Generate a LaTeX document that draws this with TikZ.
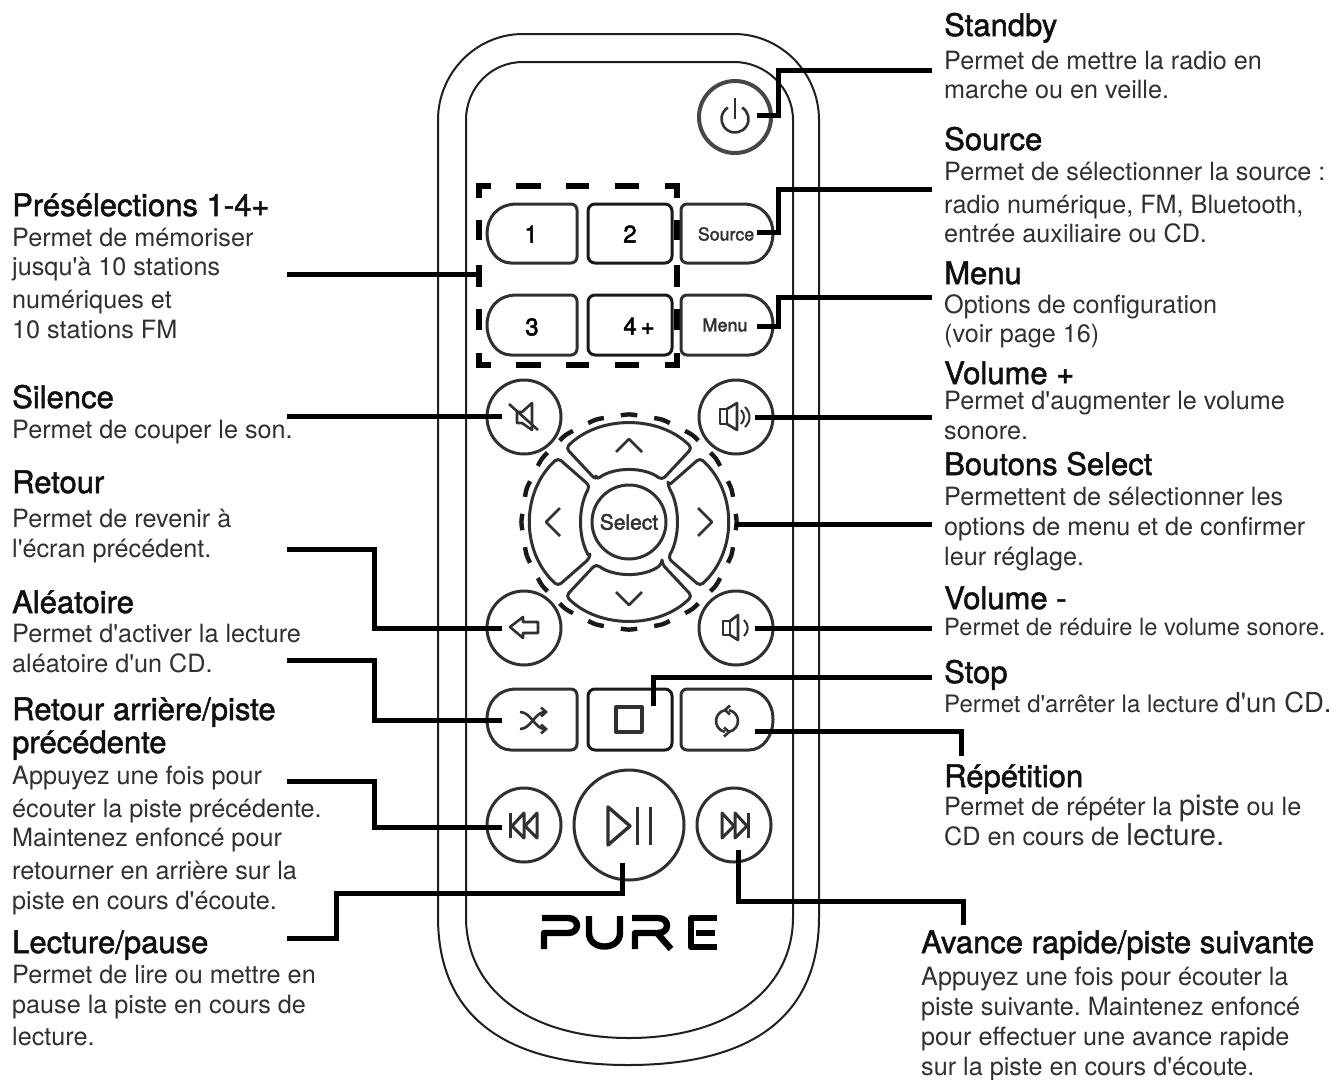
\documentclass[tikz,border=0pt]{standalone}
\usepackage{fontspec}
\usetikzlibrary{arrows.meta}
\setmainfont[Ligatures=TeXOff]{TeX Gyre Heros}
\newfontfamily\titlefont[Ligatures=TeXOff,FakeBold=1.6]{TeX Gyre Heros}
\newfontfamily\keyfont[FakeBold=2]{TeX Gyre Heros}
\definecolor{bodyink}{HTML}{303030}
\definecolor{titleink}{HTML}{101010}
\definecolor{keyink}{HTML}{303030}
\tikzset{
  bodytext/.style={anchor=base west,inner sep=0pt,text=bodyink,font=\frenchspacing\fontsize{25.2}{25.2}\selectfont},
  titletext/.style={anchor=base west,inner sep=0pt,text=titleink,font=\titlefont\fontsize{31}{31}\selectfont},
  shell/.style={draw=black!88,line width=2pt},
  keyline/.style={draw=keyink,line width=3pt,line join=round},
  roundkey/.style={circle,keyline,inner sep=0pt,minimum size=#1},
  icon/.style={draw=keyink,line width=2.6pt,line join=round},
  keylabel/.style={inner sep=0pt,text=black,font=\keyfont\fontsize{24}{24}\selectfont},
  smallkey/.style={inner sep=0pt,text=keyink,font=\keyfont\fontsize{#1}{#1}\selectfont},
  leader/.style={draw=black,line width=5pt,line join=miter},
  dashseg/.style={draw=black,line width=5.5pt},
  logo/.style={draw=black,line width=6.4pt,line join=round}
}
\newcommand{\keyL}[4]{\draw[keyline] ({#1+30},#2) [rounded corners=6pt] -- (#3,#2) -- (#3,#4) -- ({#1+30},#4) [sharp corners]
  .. controls ({#1+10},#4) and (#1,{#4-14}) .. (#1,{(#2+#4)/2})
  .. controls (#1,{#2+14}) and ({#1+10},#2) .. ({#1+30},#2) -- cycle;}
\newcommand{\keyR}[4]{\draw[keyline] ({#3-30},#2) [rounded corners=6pt] -- (#1,#2) -- (#1,#4) -- ({#3-30},#4) [sharp corners]
  .. controls ({#3-10},#4) and (#3,{#4-14}) .. (#3,{(#2+#4)/2})
  .. controls (#3,{#2+14}) and ({#3-10},#2) .. ({#3-30},#2) -- cycle;}
\newcommand{\keyM}[4]{\draw[keyline,draw=black!90,rounded corners=7pt] (#1,#2) rectangle (#3,#4);}
\begin{document}
\begin{tikzpicture}[x=1pt,y=-1pt]
\useasboundingbox (0,0) rectangle (1337,1079);
\fill[white] (0,0) rectangle (1337,1079);
% body of the remote
\draw[shell] (523,34) -- (734,34) .. controls (781,34) and (819,73) .. (819,120) -- (819,917)
  .. controls (819,1020) and (747,1065) .. (628,1065) .. controls (510,1065) and (438,1020) .. (438,917)
  -- (438,120) .. controls (438,73) and (476,34) .. (523,34) -- cycle;
\draw[shell] (523,62) -- (734,62) .. controls (766,62) and (793,88) .. (793,120) -- (793,917)
  .. controls (793,990) and (728,1038) .. (629,1038) .. controls (530,1038) and (466,990) .. (466,917)
  -- (466,120) .. controls (466,88) and (491,62) .. (523,62) -- cycle;
% power
\node[roundkey=72pt,line width=4pt,draw=black!72] (power) at (735,117) {};
\begin{scope}[shift={(735,119)},x=1pt,y=1pt]
\draw[icon] (58:13.5) arc[start angle=58,end angle=-238,radius=13.5];
\draw[icon] (0,0) -- (0,21);
\end{scope}
% preset dashes
\foreach \xa/\xb in {516/541,566/589,615/639}{
  \draw[dashseg] (\xa,186) -- (\xb,186);
  \draw[dashseg] (\xa,365) -- (\xb,365);
}
\foreach \ya/\yb in {220/240,265/287,309/330}{
  \draw[dashseg] (479,\ya) -- (479,\yb);
  \draw[dashseg] (677,\ya) -- (677,\yb);
}
\draw[dashseg] (479,198) -- (479,186) -- (491,186);
\draw[dashseg] (665,186) -- (677,186) -- (677,198);
\draw[dashseg] (479,353) -- (479,365) -- (491,365);
\draw[dashseg] (665,365) -- (677,365) -- (677,353);
% rectangular keys
\keyL{487}{204}{577}{263}
\keyM{588}{204}{672}{263}
\keyR{681}{204}{773}{263}
\keyL{487}{295}{577}{355}
\keyM{588}{295}{672}{355}
\keyR{681}{295}{773}{355}
\keyL{487}{689}{577}{750}
\keyM{588}{689}{672}{750}
\keyR{681}{689}{773}{750}
\node[keylabel] (k1) at (531,234) {1};
\node[keylabel] (k2) at (630,234) {2};
\node[smallkey=17.8] (ksource) at (726,234) {Source};
\node[keylabel] (k3) at (532,327) {3};
\node[keylabel] (k4) at (639,326) {4\,+};
\node[smallkey=18] (kmenu) at (725,325) {Menu};
% round keys
\node[roundkey=74pt] (mute) at (524,417) {};
\node[roundkey=74pt] (volup) at (736,417) {};
\node[roundkey=74pt] (back) at (524,628) {};
\node[roundkey=74pt] (voldown) at (736,628) {};
\node[roundkey=74pt] (prev) at (524,825) {};
\node[roundkey=110pt] (play) at (629,825) {};
\node[roundkey=74pt] (next) at (734,825) {};
% d-pad
\begin{scope}[shift={(629,522)}]
\foreach \a in {0,18,...,342}{
  \draw[draw=black!90,line width=4.4pt] (\a-4.4:107) .. controls (\a:107.9) .. (\a+4.4:107);
}
\foreach \r in {0,180}{
  \draw[keyline,rotate=\r,rounded corners=4pt] (-33,-42) -- (-63,-74) .. controls (-30,-107) and (30,-107) .. (63,-74) -- (33,-42) .. controls (15,-55.3) and (-15,-55.3) .. cycle;
  \draw[icon,rotate=\r] (-13,-70) -- (0,-83) -- (13,-70);
}
\foreach \r in {90,270}{
  \draw[keyline,rotate=\r,rounded corners=4pt] (-36,-39) -- (-64,-71) .. controls (-30,-108.3) and (30,-108.3) .. (64,-71) -- (36,-39) .. controls (15,-51) and (-15,-51) .. cycle;
  \draw[icon,rotate=\r] (-14,-69) -- (0,-83) -- (14,-69);
}
\end{scope}
\node[roundkey=74pt,smallkey=21] (select) at (629,522) {Select};
% icons
\draw[icon] (517,412) -- (522,412) -- (532,403) -- (532,430) -- (522,423) -- (517,423) -- cycle;
\draw[icon] (509,404) -- (538,430);
\draw[icon] (720,409) rectangle (727,424);
\draw[icon] (727,409) -- (737,403) -- (737,430) -- (727,424);
\draw[icon,line width=2pt] (741,410) .. controls (745,414) and (745,420) .. (741,424);
\draw[icon,line width=2pt] (745,407) .. controls (751,413) and (751,421) .. (745,427);
\draw[icon] (723,621) rectangle (730,635);
\draw[icon] (730,621) -- (738,615) -- (738,640) -- (730,635);
\draw[icon,line width=2pt] (744,620) .. controls (749,625) and (749,631) .. (744,636);
\draw[icon] (510,627) -- (523,617) -- (523,622) -- (538,622) -- (538,633) -- (523,633) -- (523,638) -- cycle;
\draw[icon,-{Straight Barb[length=5pt,width=9pt]}] (520,712) .. controls (531,712) and (535,729) .. (548,729);
\draw[icon,-{Straight Barb[length=5pt,width=9pt]}] (520,729) .. controls (531,729) and (535,712) .. (548,712);
\draw[icon,line width=3.4pt] (616,707) rectangle (642,732);
\begin{scope}[shift={(727,721)},x=1pt,y=1pt]
\draw[icon] (100:11) arc[start angle=100,end angle=260,radius=11];
\draw[icon] (-80:11) arc[start angle=-80,end angle=80,radius=11];
\draw[icon] (3,15.5) -- (-2,11) -- (3,6.5);
\draw[icon] (-3,-15.5) -- (2,-11) -- (-3,-6.5);
\end{scope}
\draw[icon,line width=3pt] (510,813) -- (510,838);
\draw[icon,line width=3pt] (524,813) -- (512,826) -- (524,838) -- cycle;
\draw[icon,line width=3pt] (537,813) -- (525,826) -- (537,838) -- cycle;
\draw[icon,line width=3.4pt] (608,807) -- (630,826) -- (608,845) -- cycle;
\draw[icon,line width=3pt] (637,807) -- (637,845);
\draw[icon,line width=3pt] (650,807) -- (650,845);
\draw[icon,line width=3pt] (722,813) -- (734,826) -- (722,838) -- cycle;
\draw[icon,line width=3pt] (735,813) -- (747,826) -- (735,838) -- cycle;
\draw[icon,line width=3pt] (748,813) -- (748,838);
% PURE
\draw[logo] (542,918) -- (568,918) .. controls (580,918) and (580,933) .. (568,933) -- (544,933) -- (544,949);
\draw[logo] (589,916) -- (589,933) .. controls (589,951) and (620,951) .. (620,933) -- (620,916);
\draw[logo] (632,918) -- (658,918) .. controls (670,918) and (670,933) .. (658,933) -- (635,933) -- (635,949);
\draw[logo] (657,933) -- (671,949);
\draw[logo] (717,918) -- (691,918) -- (691,947) -- (717,947);
\draw[logo] (696,933) -- (715,933);
% leaders
\coordinate (aStandby) at (757,115); \coordinate (bStandby) at (932,70);
\coordinate (aSource) at (757,232);  \coordinate (bSource) at (932,189);
\coordinate (aMenu) at (757,326);    \coordinate (bMenu) at (932,297);
\coordinate (aVolup) at (755,417);   \coordinate (bVolup) at (932,417);
\coordinate (aSelect) at (735,524);  \coordinate (bSelect) at (932,524);
\coordinate (aVoldown) at (755,628); \coordinate (bVoldown) at (932,628);
\coordinate (aStop) at (653,706);    \coordinate (bStop) at (932,677);
\coordinate (aRepeat) at (755,731);  \coordinate (bRepeat) at (961,756);
\coordinate (aNext) at (738,850);    \coordinate (bNext) at (963,925);
\coordinate (aPreset) at (287,274);  \coordinate (bPreset) at (479,274);
\coordinate (aMute) at (287,416);    \coordinate (bMute) at (502,416);
\coordinate (aBack) at (287,549);    \coordinate (bBack) at (502,628);
\coordinate (aShuffle) at (287,660); \coordinate (bShuffle) at (502,720);
\coordinate (aPrev) at (287,781);    \coordinate (bPrev) at (502,827);
\coordinate (aPlay) at (287,938);    \coordinate (bPlay) at (622,863);
\draw[leader] (aStandby) -- ++(21,0) |- (bStandby);
\draw[leader] (aSource) -- ++(21,0) |- (bSource);
\draw[leader] (aMenu) -- ++(21,0) |- (bMenu);
\draw[leader] (aVolup) -- (bVolup);
\draw[leader] (aSelect) -- (bSelect);
\draw[leader] (aVoldown) -- (bVoldown);
\draw[leader] (aStop) |- (bStop);
\draw[leader] (aRepeat) -| (bRepeat);
\draw[leader] (aNext) -- ++(0,51) -| (bNext);
\draw[leader] (aPreset) -- (bPreset);
\draw[leader] (aMute) -- (bMute);
\draw[leader] (aBack) -- ++(87,0) |- (bBack);
\draw[leader] (aShuffle) -- ++(87,0) |- (bShuffle);
\draw[leader] (aPrev) -- ++(87,0) |- (bPrev);
\draw[leader] (aPlay) -- ++(49,0) |- ++(286,-45) -- (bPlay);
% right column
\node[titletext] (tStandby) at (944,36) {Standby};
\node[bodytext] (s1) at (944,69) {Permet de mettre la radio en};
\node[bodytext] (s2) at (944,98) {marche ou en veille.};
\node[titletext] (tSource) at (944,150) {Source};
\node[bodytext] (so1) at (944,180) {Permet de sélectionner la source :};
\node[bodytext] (so2) at (944,213) {radio numérique, FM, Bluetooth,};
\node[bodytext] (so3) at (944,242) {entrée auxiliaire ou CD.};
\node[titletext] (tMenu) at (944,284) {Menu};
\node[bodytext] (m1) at (944,313) {Options de configuration};
\node[bodytext] (m2) at (944,342) {(voir page 16)};
\node[titletext] (tVolup) at (944,384) {Volume +};
\node[bodytext] (v1) at (944,409) {Permet d'augmenter le volume};
\node[bodytext] (v2) at (944,439) {sonore.};
\node[titletext] (tSelect) at (944,475) {Boutons Select};
\node[bodytext] (b1) at (944,505) {Permettent de sélectionner les};
\node[bodytext] (b2) at (944,535) {options de menu et de confirmer};
\node[bodytext] (b3) at (944,565) {leur réglage.};
\node[titletext] (tVoldown) at (944,609) {Volume -};
\node[bodytext,font=\fontsize{23.7}{24}\selectfont] (vd1) at (944,635) {Permet de réduire le volume sonore.};
\node[titletext] (tStop) at (944,683) {Stop};
\node[bodytext,font=\fontsize{24}{24}\selectfont] (st1) at (944,712) {Permet d'arrêter la lecture {\fontsize{27.5}{28}\selectfont d'un CD.}};
\node[titletext] (tRepeat) at (944,787) {Répétition};
\node[bodytext] (r1) at (944,815) {Permet de répéter la {\fontsize{29}{29}\selectfont piste} ou le};
\node[bodytext] (r2) at (944,845) {CD en cours de {\fontsize{30}{30}\selectfont lecture.}};
\node[titletext] (tNext) at (921,953) {Avance rapide/piste suivante};
\node[bodytext] (n1) at (921,985) {Appuyez une fois pour écouter la};
\node[bodytext] (n2) at (921,1015) {piste suivante. Maintenez enfoncé};
\node[bodytext] (n3) at (921,1045) {pour effectuer une avance rapide};
\node[bodytext] (n4) at (921,1075) {sur la piste en cours d'écoute.};
% left column
\node[titletext] (tPreset) at (12,216) {Présélections 1-4+};
\node[bodytext] (p1) at (12,246) {Permet de mémoriser};
\node[bodytext] (p2) at (12,275) {jusqu'à 10 stations};
\node[bodytext] (p3) at (12,308) {numériques et};
\node[bodytext] (p4) at (12,338) {10 stations FM};
\node[titletext] (tMute) at (12,408) {Silence};
\node[bodytext] (mu1) at (12,438) {Permet de couper le son.};
\node[titletext] (tBack) at (12,493) {Retour};
\node[bodytext] (ba1) at (12,527) {Permet de revenir à};
\node[bodytext] (ba2) at (12,557) {l'écran précédent.};
\node[titletext] (tShuffle) at (12,613) {Aléatoire};
\node[bodytext] (sh1) at (12,642) {Permet d'activer la lecture};
\node[bodytext] (sh2) at (12,672) {aléatoire d'un CD.};
\node[titletext] (tPrev) at (12,720) {Retour arrière/piste};
\node[titletext] (tPrevb) at (12,753) {précédente};
\node[bodytext] (pr1) at (12,784) {Appuyez une fois pour};
\node[bodytext] (pr2) at (12,817) {écouter la piste précédente.};
\node[bodytext] (pr3) at (12,846) {Maintenez enfoncé pour};
\node[bodytext] (pr4) at (12,879) {retourner en arrière sur la};
\node[bodytext] (pr5) at (12,909) {piste en cours d'écoute.};
\node[titletext] (tPlay) at (12,953) {Lecture/pause};
\node[bodytext] (pl1) at (12,983) {Permet de lire ou mettre en};
\node[bodytext] (pl2) at (12,1013) {pause la piste en cours de};
\node[bodytext] (pl3) at (12,1045) {lecture.};
\end{tikzpicture}
\end{document}
